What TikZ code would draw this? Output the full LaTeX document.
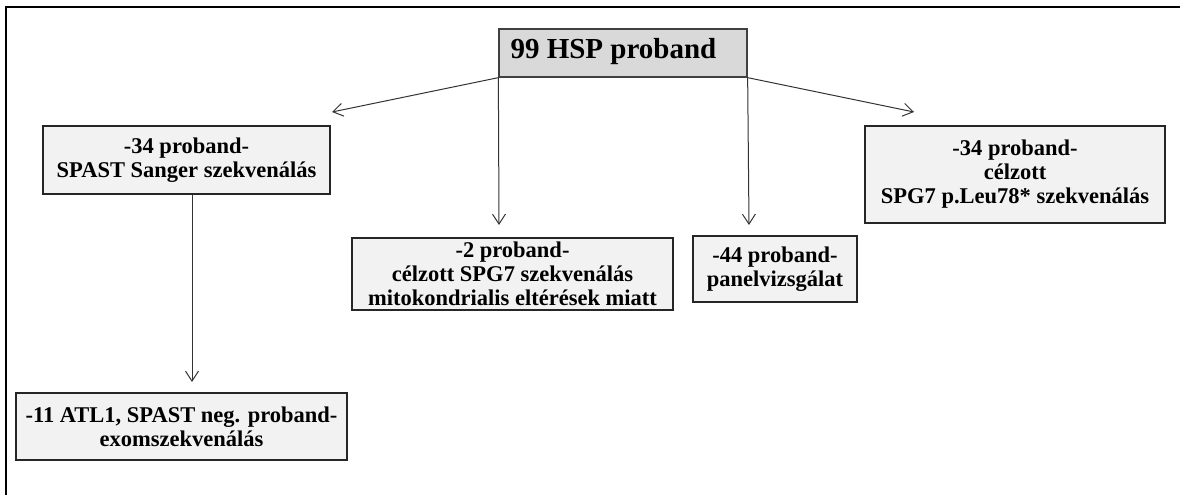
\documentclass[tikz,border=0pt]{standalone}
\usepackage{fontspec}
\setmainfont{Liberation Serif}
\usetikzlibrary{arrows.meta,calc}
\begin{document}
\begin{tikzpicture}[x=1pt,y=-1pt,
  box/.style={draw=black!85,line width=1.3pt,fill=black!5,inner sep=0pt,
    align=center,font=\fontsize{22.5}{24}\selectfont\bfseries},
  topbox/.style={draw=black!75,line width=1.3pt,fill=black!15,inner sep=0pt,
    minimum width=248pt,minimum height=48pt},
  arr/.style={draw=black!80,line width=1pt,-{Straight Barb[length=10pt,width=13pt]}},
  frame/.style={draw=black,line width=2.2pt}
]
\useasboundingbox (0,0) rectangle (1180,495);
\draw[frame] (6,495) -- (6,7) -- (1180,7);
% nodes
\node[topbox] (top) at (623,53) {};
\node[anchor=west,font=\fontsize{29}{29}\selectfont\bfseries] (toptext) at (507,52) {99 HSP proband};
\node[box,minimum width=287pt,minimum height=68pt] (spast) at (186.5,160) {-34 proband-\\SPAST Sanger szekvenálás};
\node[box,minimum width=321pt,minimum height=72pt] (two) at (512.5,274) {-2 proband-\\célzott SPG7 szekvenálás\\mitokondrialis eltérések miatt};
\node[box,minimum width=164pt,minimum height=66pt] (ff) at (775,269) {-44 proband-\\panelvizsgálat};
\node[box,minimum width=300pt,minimum height=97pt] (right) at (1015,174.5) {-34 proband-\\célzott\\SPG7 p.Leu78* szekvenálás};
\node[box,minimum width=331pt,minimum height=67pt] (eleven) at (181.5,426.5) {-11 ATL1, SPAST neg. proband-\\exomszekvenálás};
% arrow tips
\coordinate (t1) at (332,112);
\coordinate (t2) at (499,225);
\coordinate (t3) at (749,225);
\coordinate (t4) at (914,112);
\coordinate (t5) at (192,382);
\draw[arr] (top.south west) -- (t1);
\draw[arr] (top.south west) -- (t2);
\draw[arr] (top.south east) -- (t3);
\draw[arr] (top.south east) -- (t4);
\draw[arr] (t5 |- spast.south) -- (t5);
\end{tikzpicture}
\end{document}
